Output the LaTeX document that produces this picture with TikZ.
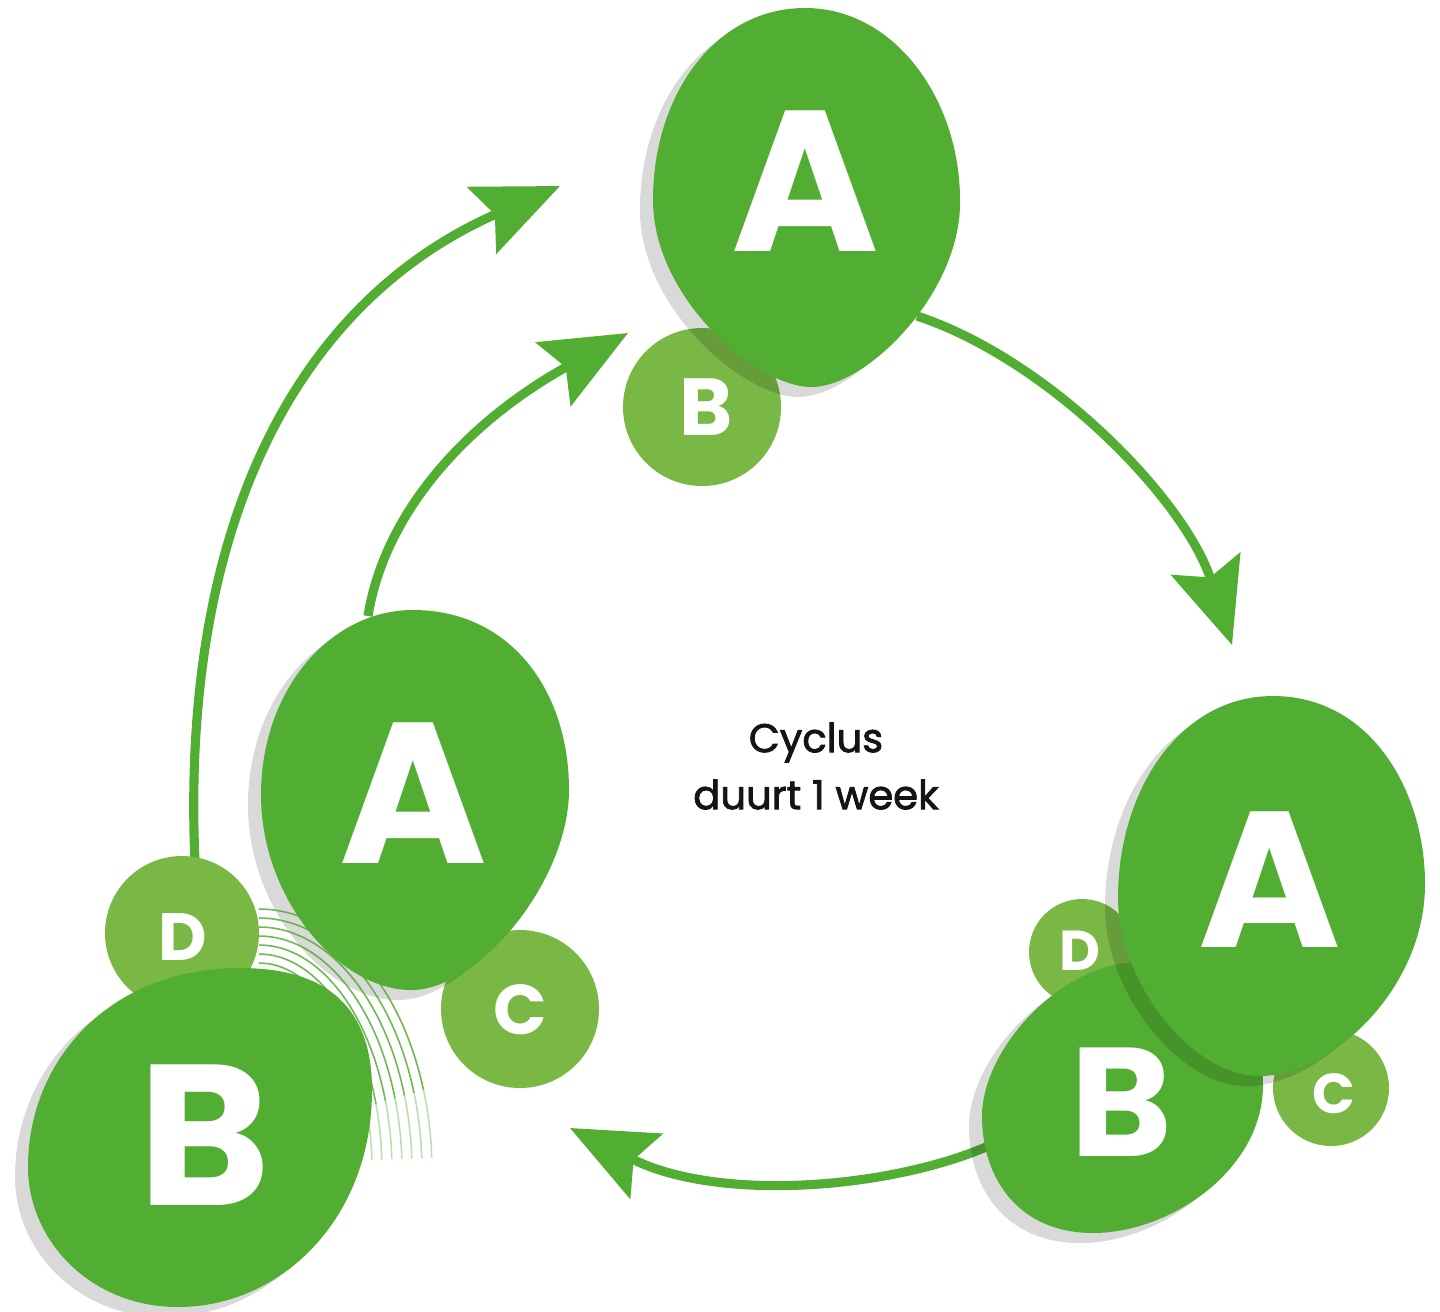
\documentclass[tikz,border=0pt]{standalone}
\usepackage{fontspec}
\setmainfont{Poppins}
\newfontfamily\midfont{Poppins}[FakeBold=2]
\usetikzlibrary{arrows.meta}
\definecolor{leafgreen}{RGB}{82,174,50}
\definecolor{budgreen}{RGB}{122,184,70}
\definecolor{inkblack}{RGB}{20,20,20}
\newcommand{\blob}[1]{%
  \fill[blobshadow] #1;
  \fill[leafgreen] #1;}
\tikzset{
  blobshadow/.style={black,opacity=.15,shift={(-13,10)}},
  cycarrow/.style={leafgreen,line width=2.6pt,-{Stealth[length=0.85cm,width=0.72cm,inset=0.14cm]}},
  ripple/.style={leafgreen,line width=0.45pt,opacity=.85},
  letter/.style={text=white,inner sep=0pt,font=\bfseries\fontsize{#1}{#1}\selectfont}
}
\begin{document}
\begin{tikzpicture}[x=0.01cm,y=-0.01cm]
\useasboundingbox (0,0) rectangle (1440,1311);
\coordinate (topTail) at (917,316);
\coordinate (rightHead) at (1232,645);
\coordinate (rightTail) at (986,1147);
\coordinate (leftHead) at (570,1128);
\coordinate (innerTail) at (368,616);
\coordinate (innerHead) at (628,333);
\coordinate (outerTail) at (195,862);
\coordinate (outerHead) at (560,186);
\draw[cycarrow] (topTail) .. controls (1050,360) and (1185,500) .. (rightHead);
\draw[cycarrow] (rightTail) .. controls (890,1188) and (720,1203) .. (leftHead);
\draw[cycarrow] (innerTail) .. controls (385,510) and (470,420) .. (innerHead);
\draw[cycarrow] (outerTail) .. controls (180,520) and (300,300) .. (outerHead);
% top cluster
\fill[budgreen] (702,407) circle[radius=79];
\blob{(805,8) .. controls (895,8) and (960,100) .. (960,200) .. controls (962,290) and (870,385) .. (813,387) .. controls (760,389) and (653,300) .. (653,200) .. controls (653,95) and (715,8) .. cycle}
\node[letter=57] (topA) at (805,181) {A};
\node[letter=23] (topB) at (706,407) {B};
% left cluster
\fill[budgreen] (520,1009) circle[radius=79];
\fill[blobshadow] (413,610) .. controls (510,610) and (569,690) .. (569,790) .. controls (569,880) and (480,990) .. (411,990) .. controls (340,990) and (261,900) .. (261,795) .. controls (261,690) and (330,610) .. cycle;
\foreach \i in {0,...,6} {
  \draw[ripple] (259,963-9*\i) arc[start angle=270,end angle=342,x radius=113+10*\i,y radius=208+9*\i]
    coordinate (rip\i);
  \draw[ripple,opacity=.4] (rip\i) arc[start angle=342,end angle=357,x radius=113+10*\i,y radius=208+9*\i];
}
\fill[budgreen] (182,933) circle[radius=77];
\blob{(240,968) .. controls (330,968) and (372,1010) .. (372,1090) .. controls (372,1220) and (280,1307) .. (178,1307) .. controls (90,1307) and (28,1240) .. (28,1167) .. controls (28,1060) and (110,968) .. cycle}
\fill[leafgreen] (413,610) .. controls (510,610) and (569,690) .. (569,790) .. controls (569,880) and (480,990) .. (411,990) .. controls (340,990) and (261,900) .. (261,795) .. controls (261,690) and (330,610) .. cycle;
\node[letter=57] (leftA) at (413,793) {A};
\node[letter=57] (leftB) at (205,1135) {B};
\node[letter=19] (leftD) at (183,937) {D};
\node[letter=20] (leftC) at (520,1010) {C};
% right cluster
\fill[budgreen] (1082,952) circle[radius=53];
\fill[budgreen] (1331,1088) circle[radius=58];
\blob{(1140,962) .. controls (1220,962) and (1263,1020) .. (1263,1085) .. controls (1263,1170) and (1170,1233) .. (1093,1233) .. controls (1020,1233) and (982,1180) .. (982,1116) .. controls (982,1050) and (1060,962) .. cycle}
\blob{(1273,696) .. controls (1370,696) and (1425,790) .. (1425,884) .. controls (1425,990) and (1330,1076) .. (1260,1076) .. controls (1190,1076) and (1118,980) .. (1118,898) .. controls (1118,790) and (1180,696) .. cycle}
\node[letter=55] (rightA) at (1270,880) {A};
\node[letter=44] (rightB) at (1121,1102) {B};
\node[letter=16] (rightD) at (1080,951) {D};
\node[letter=16] (rightC) at (1334,1094) {C};
\node[text=inkblack,align=center,font=\midfont\fontsize{11.4}{16.2}\selectfont] (cycle) at (816,766) {Cyclus\\duurt 1 week};
\end{tikzpicture}
\end{document}
